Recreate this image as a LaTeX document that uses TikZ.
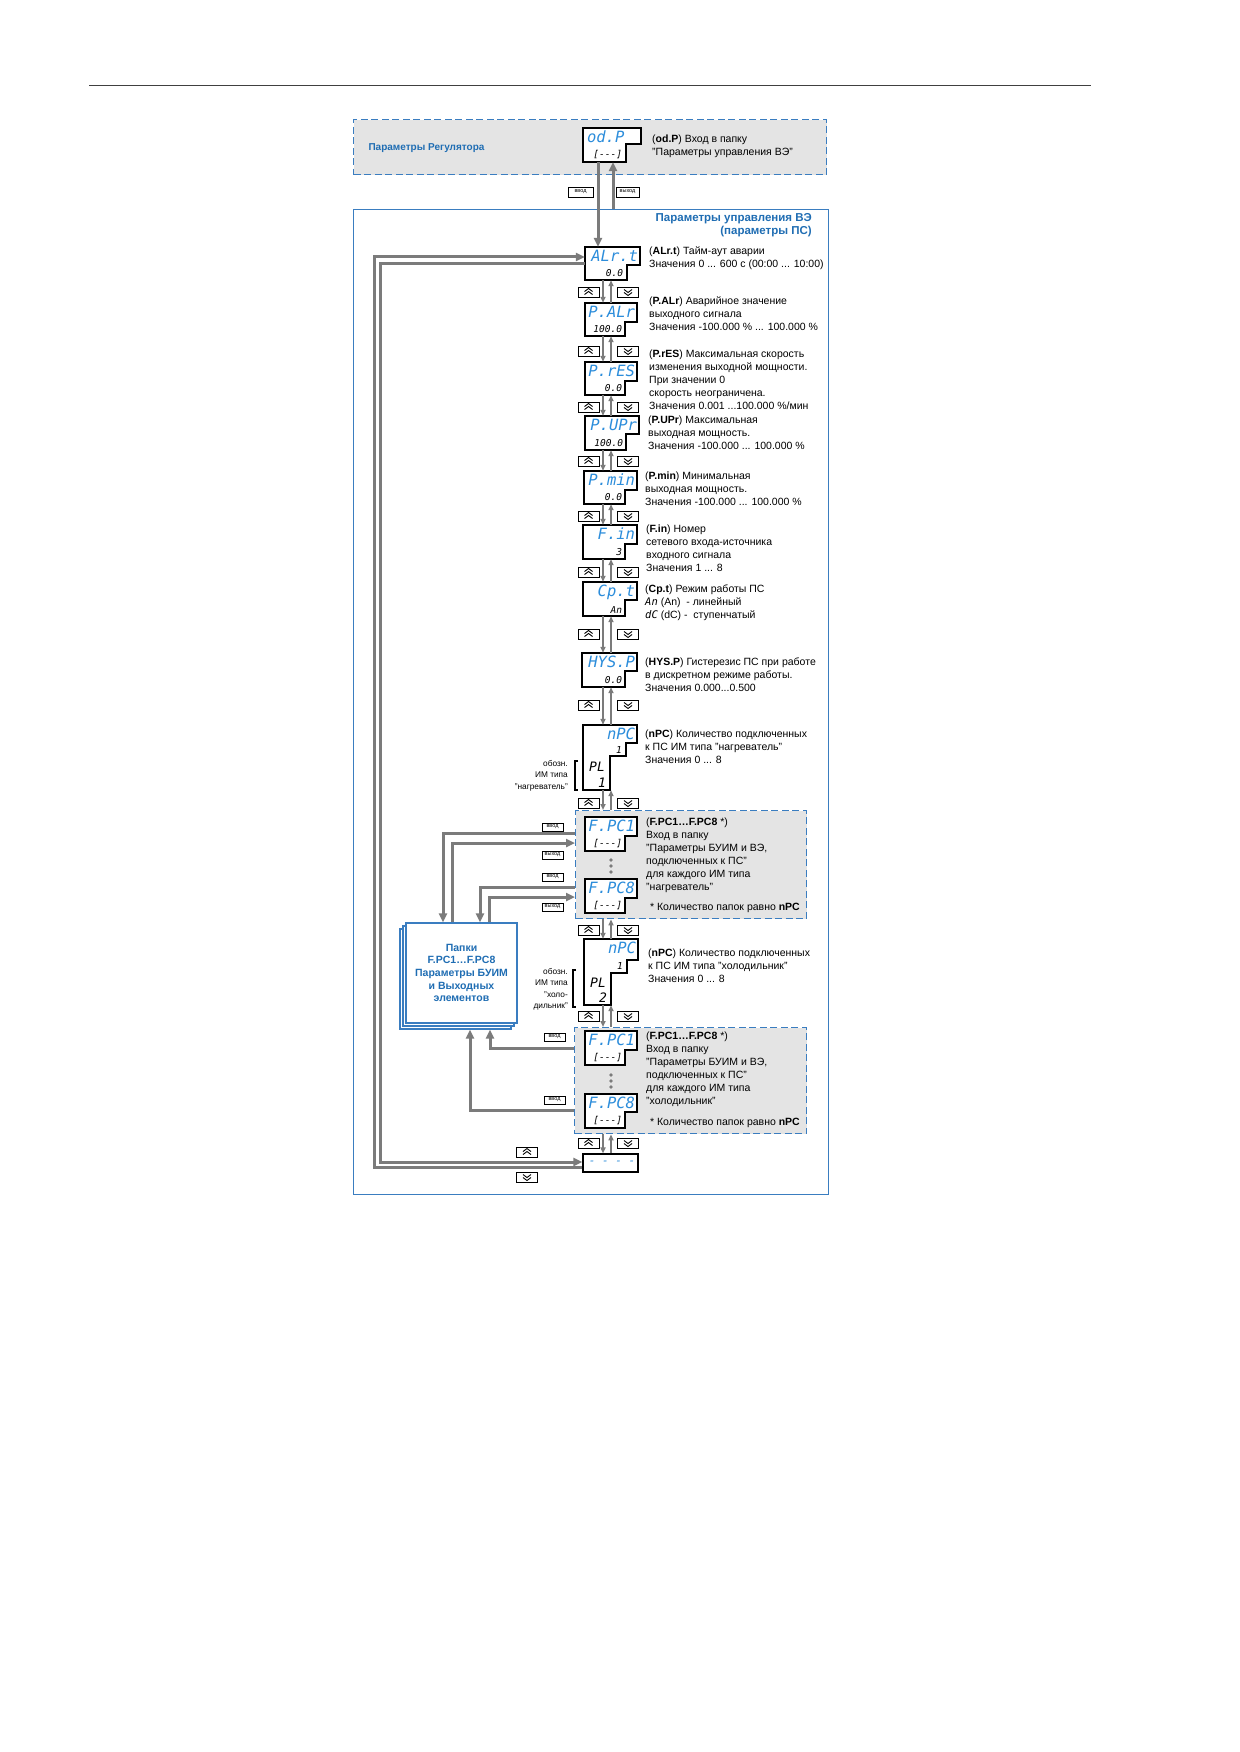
\documentclass[tikz,border=0pt]{standalone}
\usepackage{fontspec}
\setmainfont{Liberation Sans}
\newfontfamily\segfont{DejaVu Sans Mono}
\usetikzlibrary{arrows.meta,fit}
\definecolor{tblue}{HTML}{1F6DB3}
\definecolor{dblue}{HTML}{2C8DDB}
\definecolor{lgray}{HTML}{E4E4E4}
\definecolor{lgline}{HTML}{7B7B7B}
\definecolor{fblue}{HTML}{3A7DC0}
% display: name, x0, y0, x1, y1, ystep, stepwidth
\newcommand\disp[7]{%
  \draw[dispbox] (#2,#3) -- (#4,#3) -- (#4,#6) -- ({#4-#7},#6) -- ({#4-#7},#5) -- (#2,#5) -- cycle;
  \node[fit={(#2,#3) (#4,#5)}, inner sep=0pt] (#1) {};}
\newcommand\dtop[2]{\node[segtop, anchor=north east] at ([shift={(-2,3)}]#1.north east) {#2};}
\newcommand\dbot[3]{\node[segbot, anchor=south east] at ([shift={(#3,-3)}]#1.south east) {#2};}
\newcommand\kup[3]{\node[keybox] (#1) at (#2,#3) {};
  \draw[chev] ([shift={(-4,-0.5)}]#1.center) -- ++(4,-3) -- ++(4,3);
  \draw[chev] ([shift={(-4,2.5)}]#1.center) -- ++(4,-3) -- ++(4,3);}
\newcommand\kdn[3]{\node[keybox] (#1) at (#2,#3) {};
  \draw[chev] ([shift={(-4,-2.5)}]#1.center) -- ++(4,3) -- ++(4,-3);
  \draw[chev] ([shift={(-4,0.5)}]#1.center) -- ++(4,3) -- ++(4,-3);}
\begin{document}
\begin{tikzpicture}[x=1pt,y=-1pt,
  dispbox/.style={draw=black, line width=1.1pt, fill=white},
  segtop/.style={font=\segfont\itshape\fontsize{15.5}{16}\selectfont, text=dblue, inner sep=0pt},
  segbot/.style={font=\segfont\itshape\fontsize{9.5}{10}\selectfont, inner sep=0pt},
  segmid/.style={font=\segfont\itshape\fontsize{13}{13}\selectfont, inner sep=0pt},
  desc/.style={anchor=north west, align=left, inner sep=0pt, font=\fontsize{10.5}{12.9}\selectfont},
  small/.style={anchor=north east, align=right, inner sep=0pt, font=\fontsize{8.3}{11.5}\selectfont},
  keybox/.style={draw, line width=0.8pt, fill=white, minimum width=21pt, minimum height=10pt, inner sep=0pt},
  chev/.style={line width=0.9pt},
  fat/.style={draw=lgline, line width=3pt, -{Triangle[length=9pt,width=8pt]}},
  thinarr/.style={draw=lgline, line width=1.5pt, -{Triangle[length=6pt,width=5pt]}},
  lbl/.style={draw, line width=0.6pt, fill=white, font=\fontsize{5.5}{6}\selectfont, inner sep=0.8pt, minimum width=21pt, minimum height=8pt},
  dbox/.style={draw=fblue, line width=1.4pt, dash pattern=on 7pt off 3.5pt, fill=lgray, inner sep=0pt, anchor=north west},
  folder/.style={draw=fblue, line width=1.2pt, fill=white, inner sep=0pt, minimum width=111pt, minimum height=100pt}]
\useasboundingbox (0,0) rectangle (1239,1752);
\fill[white] (0,0) rectangle (1239,1752);
\draw[line width=0.9pt, black!75] (89,85) -- (1091,85);

% regions
\node[dbox, minimum width=473pt, minimum height=55pt] (reg) at (353,119) {};
\node[draw=fblue, line width=1.2pt, inner sep=0pt, anchor=north west, minimum width=475pt, minimum height=985pt] (main) at (353,209) {};
\node[dbox, minimum width=231pt, minimum height=108pt] (hbox) at (575,810) {};
\node[dbox, minimum width=232pt, minimum height=106pt] (cbox) at (574,1027) {};

\node[anchor=west, text=tblue, font=\bfseries\fontsize{10}{12}\selectfont] at (365,148) {Параметры Регулятора};
\node[anchor=north east, align=right, text=tblue, font=\bfseries\fontsize{11.5}{13}\selectfont, inner sep=0pt] at (812,213) {Параметры управления ВЭ\\(параметры ПС)};

% folder stack
\node[folder] (foldB) at (455.5,979) {};
\node[folder] (foldM) at (458.5,976) {};
\node[folder] (fold) at (461.5,973) {};
\node[align=center, text=tblue, font=\bfseries\fontsize{10.5}{12.7}\selectfont] at (fold.center) {Папки\\F.PC1…F.PC8\\Параметры БУИМ\\и Выходных\\элементов};

% displays
\disp{odp}{583}{128}{641}{162}{144}{15}
\node[segtop, anchor=north west] at ([shift={(4,3)}]odp.north west) {od.P};
\dbot{odp}{[---]}{-19}
\disp{alrt}{585}{247}{640}{280}{265}{13}
\dtop{alrt}{ALr.t}\dbot{alrt}{0.0}{-17}
\disp{palr}{585}{303}{637}{336}{322}{12}
\dtop{palr}{P.ALr}\dbot{palr}{100.0}{-15}
\disp{pres}{585}{362}{637}{395}{381}{12}
\dtop{pres}{P.rES}\dbot{pres}{0.0}{-15}
\disp{pupr}{585}{416}{639}{450}{434}{13}
\dtop{pupr}{P.UPr}\dbot{pupr}{100.0}{-16}
\disp{pmin}{584}{471}{637}{504}{490}{12}
\dtop{pmin}{P.min}\dbot{pmin}{0.0}{-15}
\disp{fin}{583}{525}{637}{559}{544}{12}
\dtop{fin}{F.in}\dbot{fin}{3}{-15}
\disp{cpt}{583}{582}{637}{616}{600}{12}
\dtop{cpt}{Cp.t}\dbot{cpt}{An}{-15}
\disp{hysp}{582}{653}{637}{687}{671}{12}
\dtop{hysp}{HYS.P}\dbot{hysp}{0.0}{-15}

% nPC heater
\draw[dispbox] (583,725) -- (637,725) -- (637,743) -- (626,743) -- (626,756) -- (610,756) -- (610,790) -- (583,790) -- cycle;
\node[fit={(583,725) (637,790)}, inner sep=0pt] (npcA) {};
\dtop{npcA}{nPC}
\node[segbot] at (619,750) {1};
\node[segmid] at (597,767) {PL};
\node[segmid] at (602,783) {1};
\draw[line width=1.2pt] (578,761) -- (575,761) -- (575,790) -- (578,790);
\node[small] at (568,760) {обозн.\\ИМ типа\\"нагреватель"};

\disp{hfa}{585}{817}{637}{851}{836}{12}
\dtop{hfa}{F.PC1}\dbot{hfa}{[---]}{-15}
\disp{hfb}{585}{879}{637}{913}{898}{12}
\dtop{hfb}{F.PC8}\dbot{hfb}{[---]}{-15}
\foreach \y in {860,866,872} {\fill[lgline] (611,\y) circle (1.8);}

% nPC cooler
\draw[dispbox] (584,939) -- (638,939) -- (638,960) -- (627,960) -- (627,973) -- (611,973) -- (611,1005) -- (584,1005) -- cycle;
\node[fit={(584,939) (638,1005)}, inner sep=0pt] (npcB) {};
\dtop{npcB}{nPC}
\node[segbot] at (620,966) {1};
\node[segmid] at (598,983) {PL};
\node[segmid] at (603,998) {2};
\draw[line width=1.2pt] (576,970) -- (573,970) -- (573,1007) -- (576,1007);
\node[small] at (568,968) {обозн.\\ИМ типа\\"холо-\\дильник"};

\disp{cfa}{585}{1031}{637}{1065}{1050}{12}
\dtop{cfa}{F.PC1}\dbot{cfa}{[---]}{-15}
\disp{cfb}{585}{1094}{637}{1128}{1112}{12}
\dtop{cfb}{F.PC8}\dbot{cfb}{[---]}{-15}
\foreach \y in {1075,1081,1087} {\fill[lgline] (611,\y) circle (1.8);}

\node[draw, line width=1.1pt, fill=white, minimum width=55pt, minimum height=18pt, inner sep=0pt] (endbox) at (610.5,1163) {};
\node[text=dblue, font=\segfont\itshape\fontsize{11}{12}\selectfont] at (612,1163) {- - - -};

% coordinates
\coordinate (xA) at (598,0); \coordinate (xB) at (613,0);
\coordinate (xL) at (603,0); \coordinate (xR) at (611,0);
\coordinate (fa) at (443,0); \coordinate (fb) at (452,0);
\coordinate (fc) at (480,0); \coordinate (fd) at (489,0);
\coordinate (fe) at (470,0); \coordinate (ff) at (490,0);
\coordinate (hy1) at (0,833); \coordinate (hy2) at (0,843);
\coordinate (hy3) at (0,887); \coordinate (hy4) at (0,897);
\coordinate (cy1) at (0,1048); \coordinate (cy2) at (0,1110);
\coordinate (oTop) at (374,257); \coordinate (oBot) at (374,1167);
\coordinate (iTop) at (380,264); \coordinate (iBot) at (380,1162);

% connectors
\draw[fat] (odp.south -| xA) -- (alrt.north -| xA);
\draw[fat] (main.north -| xB) -- (odp.south -| xB);
\draw[fat] (hbox.west |- hy1) -| (fold.north -| fa);
\draw[fat] (fold.north -| fb) |- (hbox.west |- hy2);
\draw[fat] (hbox.west |- hy3) -| (fold.north -| fc);
\draw[fat] (fold.north -| fd) |- (hbox.west |- hy4);
\draw[fat] (cbox.west |- cy1) -| (foldB.south -| ff);
\draw[fat] (cbox.west |- cy2) -| (foldB.south -| fe);
\draw[fat] (endbox.west |- oBot) -- (oBot) -- (oTop) -- (alrt.west |- oTop);
\draw[fat] (alrt.west |- iTop) -- (iTop) -- (iBot) -- (endbox.west |- iBot);

\foreach \a/\b in {alrt/palr, palr/pres, pres/pupr, pupr/pmin, pmin/fin, fin/cpt, cpt/hysp, hysp/npcA, npcA/hbox, hbox/npcB, npcB/cbox, cbox/endbox} {
  \draw[thinarr] (\a.south -| xL) -- (\b.north -| xL);
  \draw[thinarr] (\b.north -| xR) -- (\a.south -| xR);
}

% keys
\foreach \y [count=\i] in {292,351,407,461,516,572,634,705,803,930,1016,1143} {
  \kup{ku\i}{588.5}{\y}
  \kdn{kd\i}{628}{\y}
}
\kup{kuL}{527}{1152}
\kdn{kdL}{527}{1177}

% small labels
\node[lbl, minimum width=25pt, minimum height=10pt] (l1) at (580.5,192) {ввод};
\node[lbl, minimum width=23pt, minimum height=10pt] (l2) at (627.5,192) {выход};
\node[lbl] (l3) at (552.5,827) {ввод};
\node[lbl] (l4) at (552.5,855) {выход};
\node[lbl] (l5) at (552.5,877) {ввод};
\node[lbl] (l6) at (552.5,907) {выход};
\node[lbl] (l7) at (554.5,1037) {ввод};
\node[lbl] (l8) at (554.5,1100) {ввод};

% descriptions
\node[desc] at (652,135) {(\textbf{od.P}) Вход в папку\\"Параметры управления ВЭ"};
\node[desc] at (649,247) {(\textbf{ALr.t}) Тайм-аут аварии\\Значения 0 ... 600 с (00:00 ... 10:00)};
\node[desc] at (649,297) {(\textbf{P.ALr}) Аварийное значение\\выходного сигнала\\Значения -100.000 \% ... 100.000 \%};
\node[desc] at (649,350) {(\textbf{P.rES}) Максимальная скорость\\изменения выходной мощности.\\При значении 0\\скорость неограничена.\\Значения 0.001 ...100.000 \%/мин};
\node[desc] at (648,416) {(\textbf{P.UPr}) Максимальная\\выходная мощность.\\Значения -100.000 ... 100.000 \%};
\node[desc] at (645,472) {(\textbf{P.min}) Минимальная\\выходная мощность.\\Значения -100.000 ... 100.000 \%};
\node[desc] at (646,525) {(\textbf{F.in}) Номер\\сетевого входа-источника\\входного сигнала\\Значения 1 ... 8};
\node[desc] at (645,585) {(\textbf{Cp.t}) Режим работы ПС\\{\segfont\itshape An} (An)\ \ - линейный\\{\segfont\itshape dC} (dC) -\ \ ступенчатый};
\node[desc] at (645,658) {(\textbf{HYS.P}) Гистерезис ПС при работе\\в дискретном режиме работы.\\Значения 0.000...0.500};
\node[desc] at (645,730) {(\textbf{nPC}) Количество подключенных\\к ПС ИМ типа "нагреватель"\\Значения 0 ... 8};
\node[desc] at (646,818) {(\textbf{F.PC1…F.PC8} *)\\Вход в папку\\"Параметры БУИМ и ВЭ,\\подключенных к ПС"\\для каждого ИМ типа\\"нагреватель"};
\node[anchor=east, inner sep=0pt, font=\fontsize{10.5}{12.9}\selectfont] at (800,908) {* Количество папок равно \textbf{nPC}};
\node[desc] at (648,949) {(\textbf{nPC}) Количество подключенных\\к ПС ИМ типа "холодильник"\\Значения 0 ... 8};
\node[desc] at (646,1032) {(\textbf{F.PC1…F.PC8} *)\\Вход в папку\\"Параметры БУИМ и ВЭ,\\подключенных к ПС"\\для каждого ИМ типа\\"холодильник"};
\node[anchor=east, inner sep=0pt, font=\fontsize{10.5}{12.9}\selectfont] at (800,1123) {* Количество папок равно \textbf{nPC}};
\end{tikzpicture}
\end{document}
